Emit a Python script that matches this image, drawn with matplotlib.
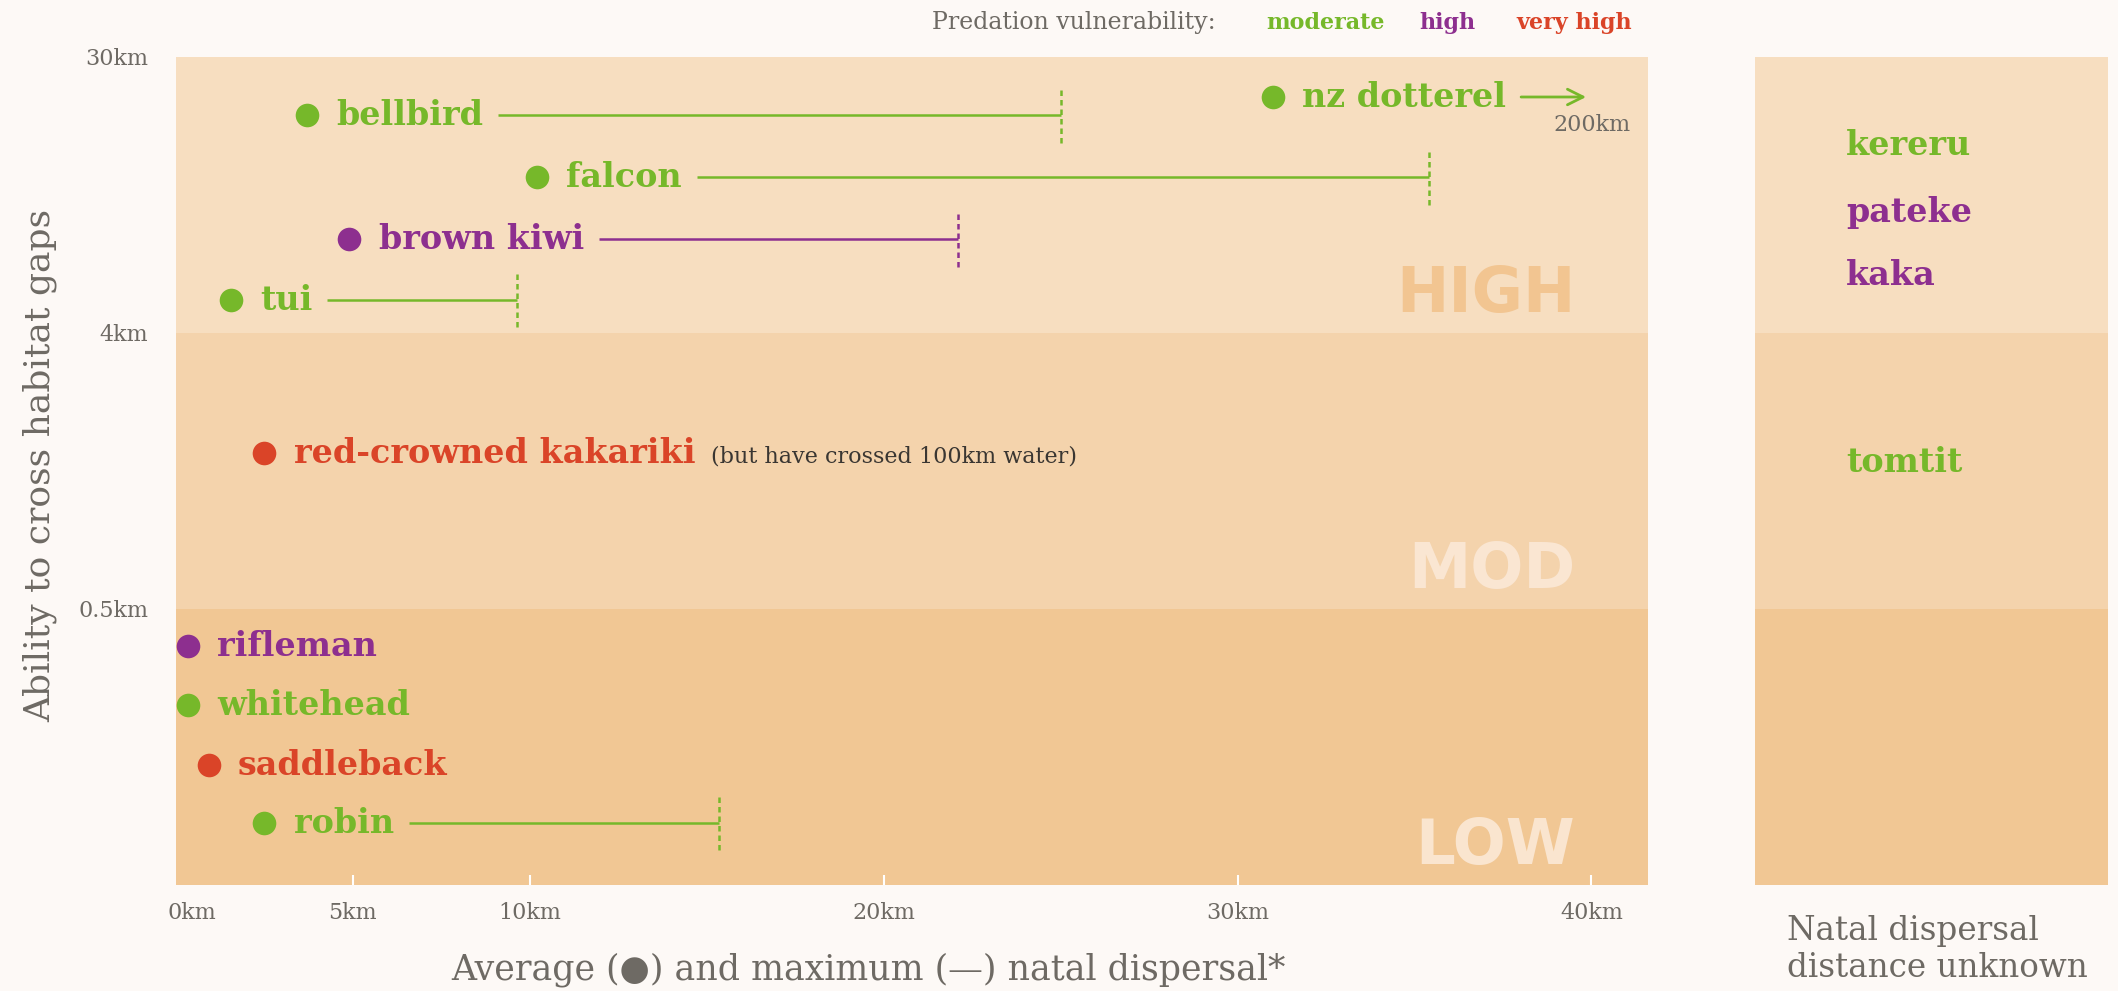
import matplotlib
matplotlib.use("Agg")
import matplotlib.pyplot as plt
from matplotlib.transforms import ScaledTranslation

# ---------------- data ----------------
species = ["bellbird", "nz dotterel", "falcon", "brown kiwi", "tui",
           "red-crowned kakariki", "rifleman", "whitehead", "saddleback", "robin"]
avg_km = [3.7, 31.0, 10.2, 4.9, 1.55, 2.5, 0.33, 0.33, 0.93, 2.5]
max_km = [25.0, 200.0, 35.4, 22.1, 9.65, None, None, None, None, 15.35]
vulnerability = ["moderate", "moderate", "moderate", "high", "moderate",
                 "very high", "high", "moderate", "very high", "moderate"]
gap_ability = [2.79, 2.855, 2.565, 2.34, 2.12, 1.565, 0.866, 0.652, 0.435, 0.225]
notes = {"red-crowned kakariki": "(but have crossed 100km water)"}

unknown_species = ["kereru", "pateke", "kaka", "tomtit"]
unknown_vuln = ["moderate", "high", "high", "moderate"]
unknown_ability = [2.678, 2.438, 2.207, 1.529]

x_ticks = [0, 5, 10, 20, 30, 40]
x_ticklabels = ["0km", "5km", "10km", "20km", "30km", "40km"]
y_ticks = [1, 2, 3]
y_ticklabels = ["0.5km", "4km", "30km"]
bands = ["LOW", "MOD", "HIGH"]
legend_levels = ["moderate", "high", "very high"]

# ---------------- style ----------------
COL = {"moderate": "#76B82A", "high": "#8D2F8F", "very high": "#DA4428"}
BG = "#FDF9F6"
BAND_COL = ["#F1C794", "#F4D3AC", "#F7DEC0"]
BAND_TXT = ["#FAE5CF", "#FAE6D2", "#F2C591"]
GREY = "#6E6A64"
SERIF = ["DejaVu Serif", "DejaVu Sans"]

fig = plt.figure(figsize=(21.18, 9.91), dpi=100, facecolor=BG)
ax = fig.add_axes([0.0831, 0.1070, 0.6950, 0.8355])
ax2 = fig.add_axes([0.8286, 0.1070, 0.1667, 0.8355])

for a in (ax, ax2):
    a.set_facecolor("none")
    for s in a.spines.values():
        s.set_visible(False)
    a.set_ylim(0, 3)
    for i, c in enumerate(BAND_COL):
        a.axhspan(i, i + 1, color=c, lw=0, zorder=0)

ax.set_xlim(0, 41.6)
ax2.set_xlim(0, 1)
ax2.set_xticks([])
ax2.set_yticks([])

ax.set_xticks(x_ticks)
ax.set_xticklabels(x_ticklabels, fontsize=16, color=GREY, family=SERIF)
ax.tick_params(axis="x", direction="in", color="white", length=7, width=1.5, pad=12)
first = ax.get_xticklabels()[0]
first.set_transform(first.get_transform() + ScaledTranslation(16 / 100, 0, fig.dpi_scale_trans))
ax.xaxis.get_major_ticks()[0].tick1line.set_visible(False)
ax.set_yticks(y_ticks)
ax.set_yticklabels(y_ticklabels, fontsize=16, color=GREY, family=SERIF)
ax.tick_params(axis="y", length=0, pad=20)

# band labels
for i, (b, tc) in enumerate(zip(bands, BAND_TXT)):
    ax.text(39.55, i + 0.075, b, ha="right", va="baseline", fontsize=45,
            fontweight="bold", family="DejaVu Sans", color=tc, zorder=1)

# species labels and dots
labels = []
for name, x, y, v in zip(species, avg_km, gap_ability, vulnerability):
    c = COL[v]
    ax.plot([x], [y], "o", ms=17, color=c, mec="none", zorder=3)
    t = ax.annotate(name, xy=(x, y), xytext=(21, -7), textcoords="offset points",
                    va="baseline", ha="left", fontsize=24, fontweight="bold",
                    family=SERIF, color=c, zorder=3)
    labels.append(t)

fig.canvas.draw()
r = fig.canvas.get_renderer()
inv = ax.transData.inverted()
xmax_axis = ax.get_xlim()[1]

for t, name, y, v, mx in zip(labels, species, gap_ability, vulnerability, max_km):
    c = COL[v]
    bb = t.get_window_extent(r)
    if name in notes:
        xd = inv.transform((bb.x1 + 16, 0))[0]
        ax.annotate(notes[name], xy=(xd, y), xytext=(0, -7), textcoords="offset points",
                    va="baseline", ha="left", fontsize=16, family=SERIF, color="#3A3632")
    if mx is None:
        continue
    xs = inv.transform((bb.x1 + 15, 0))[0]
    if mx > xmax_axis:
        xe = inv.transform((bb.x1 + 80, 0))[0]
        ax.annotate("", xy=(xe, y), xytext=(xs, y),
                    arrowprops=dict(arrowstyle="->", color=c, lw=2, mutation_scale=28,
                                    shrinkA=0, shrinkB=0))
        ax.annotate(f"{mx:.0f}km", xy=(xe, y), xytext=(4, -20), textcoords="offset points",
                    ha="center", va="center", fontsize=16, family=SERIF, color=GREY)
    else:
        ax.plot([xs, mx], [y, y], color=c, lw=1.8, solid_capstyle="butt", zorder=2)
        ax.plot([mx, mx], [y - 0.1, y + 0.1], color=c, lw=1.8,
                linestyle=(0, (2.2, 1.6)), zorder=2)

# species with unknown dispersal
for name, v, y in zip(unknown_species, unknown_vuln, unknown_ability):
    ax2.text(0.258, y, name, ha="left", va="center", fontsize=24, fontweight="bold",
             family=SERIF, color=COL[v])

# axis labels
fig.text(0.019, 0.530, "Ability to cross habitat gaps", rotation=90, ha="center",
         va="center", fontsize=26, color=GREY, family=SERIF)
fig.text(0.410, 0.021, "Average (\u25cf) and maximum (\u2014) natal dispersal*", ha="center",
         va="center", fontsize=25, color=GREY, family=SERIF)
fig.text(0.8435, 0.042, "Natal dispersal\ndistance unknown", ha="left", va="center",
         fontsize=23.5, color=GREY, family=SERIF, linespacing=1.22)

# legend
fig.text(0.440, 0.977, "Predation vulnerability:", ha="left", va="center",
         fontsize=17, color=GREY, family=SERIF)
for lvl, xpos in zip(legend_levels, [0.598, 0.670, 0.716]):
    fig.text(xpos, 0.977, lvl, ha="left", va="center", fontsize=16, fontweight="bold",
             color=COL[lvl], family=SERIF)

fig.savefig("out.png", dpi=100, facecolor=BG)
